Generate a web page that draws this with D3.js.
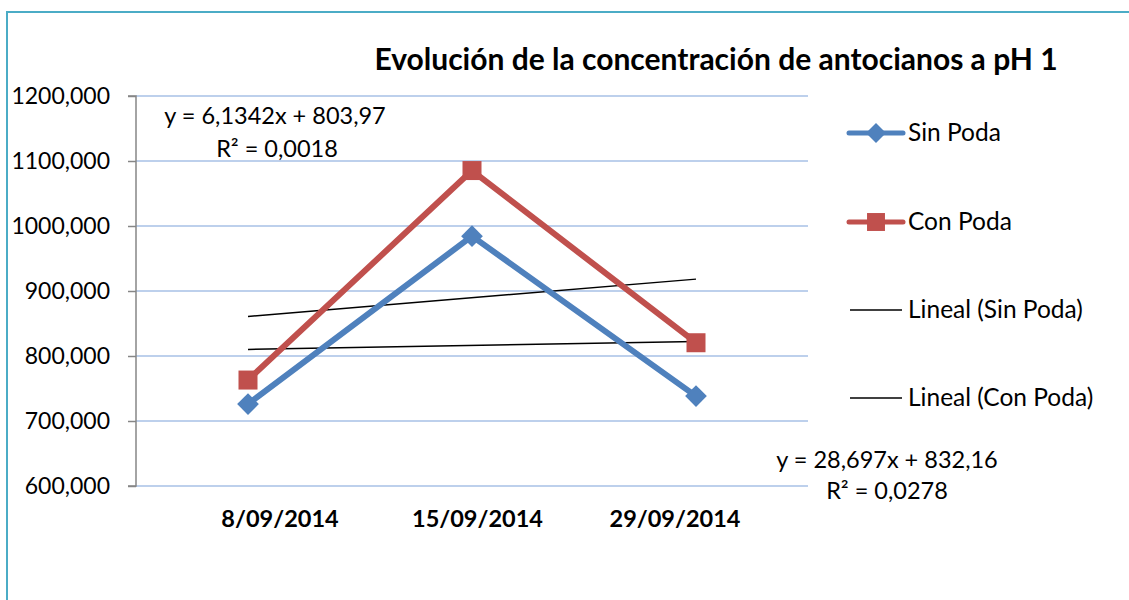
<!DOCTYPE html>
<html>
<head>
<meta charset="utf-8">
<script src="https://cdn.jsdelivr.net/npm/d3@7"></script>
<style>
  html, body { margin: 0; padding: 0; background: #fff; }
  svg text { font-family: Lato, "Open Sans", sans-serif; fill: #000; }
</style>
</head>
<body>
<div id="chart"></div>
<script>
// data
const categories = ["8/09/2014", "15/09/2014", "29/09/2014"];
const sinPoda = [726, 984.4, 738.3];
const conPoda = [763, 1085.3, 820.4];
const yTicks = [600, 700, 800, 900, 1000, 1100, 1200];
const seriesNames = ["Sin Poda", "Con Poda", "Lineal (Sin Poda)", "Lineal (Con Poda)"];
const eqSin = ["y = 6,1342x + 803,97", "R² = 0,0018"];
const eqCon = ["y = 28,697x + 832,16", "R² = 0,0278"];
const title = "Evolución de la concentración de antocianos a pH 1";

const W = 1129, H = 600;
const plot = {left: 136, right: 808, top: 96, bottom: 486};

const svg = d3.select("#chart").append("svg")
    .attr("width", W).attr("height", H);

// chart frame
svg.append("rect")
    .attr("x", 7).attr("y", 12)
    .attr("width", W + 10).attr("height", H + 10)
    .attr("fill", "#fff")
    .attr("stroke", "#4bacc6").attr("stroke-width", 2);

const x = d3.scaleBand()
    .domain(categories)
    .range([plot.left, plot.right]);
const xc = d => x(d) + x.bandwidth() / 2;

// the category labels sit closer together than the points in the original
const xLab = d3.scalePoint()
    .domain(categories)
    .range([280, 675]);

const y = d3.scaleLinear()
    .domain([600, 1200])
    .range([plot.bottom, plot.top]);

// gridlines
svg.append("g")
  .selectAll("line")
  .data(yTicks)
  .join("line")
    .attr("x1", plot.left).attr("x2", plot.right)
    .attr("y1", d => y(d)).attr("y2", d => y(d))
    .attr("stroke", "#a7c0e6").attr("stroke-width", 1.5);

// y axis
const yAxis = svg.append("g")
    .attr("transform", `translate(${plot.left},0)`)
    .call(d3.axisLeft(y).tickValues(yTicks).tickSize(8).tickPadding(18)
      .tickFormat(d => d3.format("d")(d) + ",000"));
yAxis.select(".domain").attr("stroke", "#868686").attr("stroke-width", 1.5)
    .attr("d", `M-8,${plot.top}H0V${plot.bottom}H-8`);
yAxis.selectAll(".tick line").attr("stroke", "#868686").attr("stroke-width", 1.5);
yAxis.selectAll(".tick text")
    .attr("font-size", 23).attr("fill", "#000")
    .style("font-family", "Lato, sans-serif");

// x labels
svg.append("g")
  .selectAll("text")
  .data(categories)
  .join("text")
    .attr("x", d => xLab(d)).attr("y", 527)
    .attr("text-anchor", "middle")
    .attr("font-size", 23.5).attr("font-weight", "bold")
    .text(d => d);

// least squares fit over category index 1..n
function fit(vals) {
  const n = vals.length, xs = vals.map((_, i) => i + 1);
  const mx = d3.mean(xs), my = d3.mean(vals);
  const b = d3.sum(xs, (v, i) => (v - mx) * (vals[i] - my)) / d3.sum(xs, v => (v - mx) ** 2);
  const a = my - b * mx;
  return [a + b * 1, a + b * n];
}

const ends = [categories[0], categories[categories.length - 1]];
[sinPoda, conPoda].forEach(vals => {
  const f = fit(vals);
  svg.append("line")
      .attr("x1", xc(ends[0])).attr("y1", y(f[0]))
      .attr("x2", xc(ends[1])).attr("y2", y(f[1]))
      .attr("stroke", "#000").attr("stroke-width", 1.5);
});

const line = d3.line()
    .x((d, i) => xc(categories[i]))
    .y(d => y(d));

const series = [
  {vals: sinPoda, color: "#4f81bd", shape: d3.symbolDiamond2, size: 300, legSize: 255},
  {vals: conPoda, color: "#c0504d", shape: d3.symbolSquare2, size: 460, legSize: 410}
];

series.forEach(s => {
  svg.append("path")
      .datum(s.vals)
      .attr("fill", "none")
      .attr("stroke", s.color).attr("stroke-width", 6)
      .attr("stroke-linejoin", "round")
      .attr("d", line);
  svg.append("g")
    .selectAll("path")
    .data(s.vals)
    .join("path")
      .attr("transform", (d, i) => `translate(${xc(categories[i])},${y(d)})`)
      .attr("d", d3.symbol(s.shape, s.size))
      .attr("fill", s.color).attr("stroke", "none");
});

// title
svg.append("text")
    .attr("x", 716).attr("y", 70)
    .attr("text-anchor", "middle")
    .attr("font-size", 30).attr("font-weight", "bold")
    .text(title);

// legend
const legY = [133, 222, 310, 398];
const leg = svg.append("g");
seriesNames.forEach((name, i) => {
  const g = leg.append("g").attr("transform", `translate(0,${legY[i]})`);
  if (i < 2) {
    g.append("line").attr("x1", 849).attr("x2", 903)
        .attr("stroke", series[i].color).attr("stroke-width", 5).attr("stroke-linecap", "round");
    g.append("path").attr("transform", "translate(876,0)")
        .attr("d", d3.symbol(series[i].shape, series[i].legSize))
        .attr("fill", series[i].color);
  } else {
    g.append("line").attr("x1", 850).attr("x2", 902)
        .attr("stroke", "#000").attr("stroke-width", 1.5);
  }
  g.append("text").attr("x", 908).attr("y", 8)
      .attr("font-size", 24.5).text(name);
});

// trendline equations
const eqSize = 23.5;
svg.append("text").attr("x", 275).attr("y", 124).attr("text-anchor", "middle")
    .attr("font-size", eqSize).text(eqSin[0]);
svg.append("text").attr("x", 277).attr("y", 157).attr("text-anchor", "middle")
    .attr("font-size", eqSize).text(eqSin[1]);
svg.append("text").attr("x", 887).attr("y", 468).attr("text-anchor", "middle")
    .attr("font-size", eqSize).text(eqCon[0]);
svg.append("text").attr("x", 887).attr("y", 499).attr("text-anchor", "middle")
    .attr("font-size", eqSize).text(eqCon[1]);
</script>
</body>
</html>
